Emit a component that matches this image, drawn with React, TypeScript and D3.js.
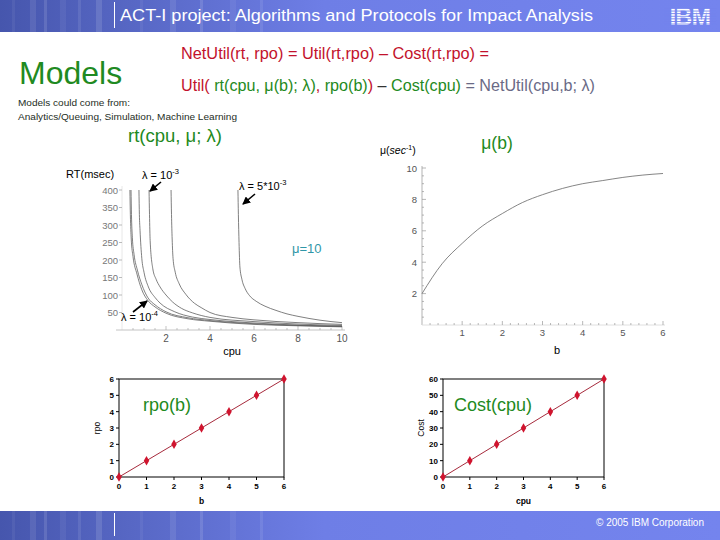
import React from 'react';
import * as d3 from 'd3';

// ---------- DATA ----------
const rtTicks = [50, 100, 150, 200, 250, 300, 350, 400];
const cpuTicks = [2, 4, 6, 8, 10];
// response-time curves [cpu, rt(msec)]
const rtCurve1 = [[0.36, 400], [0.38, 330], [0.42, 260], [0.5, 210], [0.68, 160], [0.9, 115], [1.18, 84], [1.5, 66], [2, 48], [3, 32], [4, 25], [6, 16], [8, 12], [10, 9]];
const rtCurve2 = [[0.41, 400], [0.43, 330], [0.47, 265], [0.55, 215], [0.7, 171], [0.9, 130], [1.18, 92], [1.5, 72], [2, 52], [3, 35], [4, 27], [6, 18], [8, 13], [10, 10]];
const rtCurve3 = [[0.77, 400], [0.79, 330], [0.82, 285], [0.9, 205], [1.0, 165], [1.2, 123], [1.5, 93], [1.73, 77], [2.4, 52], [3.2, 37], [4, 30], [6, 20], [8, 14], [10, 11]];
const rtCurve4 = [[1.23, 400], [1.25, 330], [1.28, 255], [1.4, 175], [1.55, 145], [1.73, 123], [2.0, 100], [2.3, 80], [2.7, 62], [3.2, 49], [4, 36], [6, 24], [8, 17], [10, 13]];
const rtCurve5 = [[2.23, 400], [2.25, 330], [2.28, 260], [2.32, 205], [2.42, 165], [2.6, 132], [2.9, 102], [3.3, 76], [3.6, 64], [4, 50], [5, 36], [6, 29], [8, 21], [10, 16]];
const rtCurve6 = [[5.27, 400], [5.29, 330], [5.32, 250], [5.36, 180], [5.45, 145], [5.6, 118], [5.8, 98], [6.1, 82], [6.5, 68], [7, 56], [7.5, 46], [8, 39], [9, 28], [10, 21]];
const rtCurves = [rtCurve1, rtCurve2, rtCurve3, rtCurve4, rtCurve5, rtCurve6];

const muTicksY = [2, 4, 6, 8, 10];
const muTicksX = [1, 2, 3, 4, 5, 6];
const muB = [0, 0.5, 1, 1.5, 2, 2.5, 3, 3.5, 4, 4.5, 5, 5.5, 6];
const muVal = [2, 3.9, 5.2, 6.3, 7.1, 7.8, 8.3, 8.7, 9.0, 9.2, 9.4, 9.55, 9.65];

const bVals = [0, 1, 2, 3, 4, 5, 6];
const rpoVals = [0, 1, 2, 3, 4, 5, 6];
const rpoTicks = [0, 1, 2, 3, 4, 5, 6];
const cpuVals = [0, 1, 2, 3, 4, 5, 6];
const costVals = [0, 10, 20, 30, 40, 50, 60];
const costTicks = [0, 10, 20, 30, 40, 50, 60];

const FONT = "'Liberation Sans', Arial, Helvetica, sans-serif";
const RED = '#c2122c';
const GREEN = '#1f8a22';

function Band({ y, h, id }: { y: number; h: number; id: string }) {
  return (
    <g>
      <rect x={0} y={y} width={720} height={h} fill={`url(#${id})`} />
      {[12, 30, 44, 60, 78, 96, 140, 170, 200, 230, 260].map((x, i) => (
        <rect key={i} x={x} y={y} width={i % 2 ? 6 : 3} height={h} fill="#ffffff" opacity={0.06 + (i % 3) * 0.03} />
      ))}
      <line x1={114.5} x2={114.5} y1={y + 2} y2={y + h - 4} stroke="#fff" strokeWidth={1} />
    </g>
  );
}

function ExcelChart({ x0, x1, y0, y1, xs, ys, yMax, yTicks, yLabel, xLabel, title, titleX }: any) {
  const xS = d3.scaleLinear().domain([0, 6]).range([x0, x1]);
  const yS = d3.scaleLinear().domain([0, yMax]).range([y1, y0]);
  const line = d3.line<number>().x((d, i) => xS(xs[i])).y((d) => yS(d));
  const sym = d3.symbol(d3.symbolDiamond, 26)();
  return (
    <g fontFamily={FONT}>
      <rect x={x0} y={y0} width={x1 - x0} height={y1 - y0} fill="#fff" stroke="#000" strokeWidth={1} />
      {yTicks.map((t: number) => (
        <g key={t}>
          <line x1={x0 - 3} x2={x0} y1={yS(t)} y2={yS(t)} stroke="#000" />
          <text x={x0 - 5} y={yS(t) + 3} textAnchor="end" fontSize={8} fontWeight="bold">{t}</text>
        </g>
      ))}
      {xs.map((t: number) => (
        <g key={t}>
          <line x1={xS(t)} x2={xS(t)} y1={y1} y2={y1 + 3} stroke="#000" />
          <text x={xS(t)} y={y1 + 12} textAnchor="middle" fontSize={8} fontWeight="bold">{t}</text>
        </g>
      ))}
      <path d={line(ys) || ''} fill="none" stroke="#9c1226" strokeWidth={0.9} />
      {ys.map((v: number, i: number) => (
        <path key={i} d={sym || ''} transform={`translate(${xS(xs[i])},${yS(v)})`} fill="#d0142e" />
      ))}
      <text transform={`translate(${x0 - 19},${(y0 + y1) / 2}) rotate(-90)`} textAnchor="middle" fontSize={8.5}>{yLabel}</text>
      <text x={(x0 + x1) / 2} y={y1 + 27} textAnchor="middle" fontSize={8.5} fontWeight="bold">{xLabel}</text>
      <text x={titleX} y={411} fontSize={18} fill={GREEN}>{title}</text>
    </g>
  );
}

export default function App() {
  // RT chart scales
  const xRT = d3.scaleLinear().domain([0, 10]).range([122, 342]);
  const yRT = d3.scaleLinear().domain([0, 400]).range([330, 190]);
  const rtLine = d3.line<number[]>().x((d) => xRT(d[0])).y((d) => yRT(d[1])).curve(d3.curveMonotoneX);

  // mu chart scales
  const xMu = d3.scaleLinear().domain([0, 6]).range([422, 663]);
  const yMu = d3.scaleLinear().domain([0, 10]).range([325, 168]);
  const muLine = d3.line<number>().x((d, i) => xMu(muB[i])).y((d) => yMu(d)).curve(d3.curveMonotoneX);

  const minorY = d3.range(0.5, 10.01, 0.5);
  const minorX = d3.range(0.2, 6.01, 0.2);
  const minorRT = d3.range(0.5, 10.01, 0.5);

  return (
    <svg width={720} height={540} style={{ position: 'absolute', left: 0, top: 0, background: '#fff' }} fontFamily={FONT}>
      <defs>
        <linearGradient id="hdr" x1="0" x2="1" y1="0" y2="0">
          <stop offset="0" stopColor="#4656ad" />
          <stop offset="0.18" stopColor="#5767c4" />
          <stop offset="0.45" stopColor="#6e7ee6" />
          <stop offset="1" stopColor="#7484ee" />
        </linearGradient>
        <marker id="arr" markerUnits="userSpaceOnUse" markerWidth={8} markerHeight={8} refX={7} refY={4} orient="auto">
          <path d="M0,0 L8,4 L0,8 z" fill="#000" />
        </marker>
      </defs>
      <rect x={0} y={0} width={720} height={540} fill="#fff" />

      {/* header */}
      <Band y={0} h={32} id="hdr" />
      <text x={120} y={21} fill="#fff" fontSize={17} textLength={473} lengthAdjust="spacingAndGlyphs">ACT-I project: Algorithms and Protocols for Impact Analysis</text>
      <g>
        <text x={690} y={25} textAnchor="middle" fill="#fff" fontSize={23} fontWeight="bold" letterSpacing={-0.5}>IBM</text>
        {d3.range(8, 26, 2.6).map((y, i) => (
          <rect key={i} x={664} y={y} width={52} height={0.9} fill="#7383ed" />
        ))}
      </g>

      {/* footer */}
      <Band y={511} h={29} id="hdr" />
      <text x={704} y={526} textAnchor="end" fill="#fff" fontSize={10}>© 2005 IBM Corporation</text>

      {/* headings */}
      <text x={19} y={84} fontSize={32} fill={GREEN}>Models</text>
      <text x={181} y={59} fontSize={16} fill={RED} textLength={308} lengthAdjust="spacingAndGlyphs">
        NetUtil(rt, rpo) = Util(rt,rpo) – Cost(rt,rpo) =
      </text>
      <text x={181} y={91} fontSize={16} textLength={414} lengthAdjust="spacingAndGlyphs">
        <tspan fill={RED}>Util( </tspan>
        <tspan fill={GREEN}>rt(cpu, μ(b); λ)</tspan>
        <tspan fill={RED}>, </tspan>
        <tspan fill={GREEN}>rpo(b)</tspan>
        <tspan fill={RED}>)</tspan>
        <tspan fill="#333"> – </tspan>
        <tspan fill={GREEN}>Cost(cpu)</tspan>
        <tspan fill="#6a6a86"> = NetUtil(cpu,b; λ)</tspan>
      </text>
      <text x={18} y={106} fontSize={9.5} fill="#1e2e1e" textLength={112} lengthAdjust="spacingAndGlyphs">Models could come from:</text>
      <text x={18} y={120} fontSize={9.5} fill="#1e2e1e" textLength={219} lengthAdjust="spacingAndGlyphs">Analytics/Queuing, Simulation, Machine Learning</text>

      {/* RT chart */}
      <text x={175} y={142} textAnchor="middle" fontSize={18.5} fill={GREEN}>rt(cpu, μ; λ)</text>
      <text x={66} y={178} fontSize={11}>RT(msec)</text>
      <line x1={122} x2={122} y1={186} y2={330} stroke="#e8e8e8" />
      <line x1={116} x2={345} y1={330} y2={330} stroke="#c4c4c4" />
      {minorRT.map((t) => (
        <line key={t} x1={xRT(t)} x2={xRT(t)} y1={330} y2={t % 2 === 0 ? 326 : 328} stroke="#aaa" strokeWidth={0.7} />
      ))}
      {rtTicks.map((t) => (
        <g key={t}>
          <line x1={119} x2={122} y1={yRT(t)} y2={yRT(t)} stroke="#aaa" strokeWidth={0.8} />
          <text x={118} y={yRT(t) + 3.5} textAnchor="end" fontSize={9.5} fill="#777">{t}</text>
        </g>
      ))}
      {cpuTicks.map((t) => (
        <text key={t} x={xRT(t)} y={342} textAnchor="middle" fontSize={10} fill="#555">{t}</text>
      ))}
      <text x={232} y={355} textAnchor="middle" fontSize={11}>cpu</text>
      {rtCurves.map((c, i) => (
        <path key={i} d={rtLine(c) || ''} fill="none" stroke="#555" strokeWidth={0.75} />
      ))}
      {/* annotations */}
      <text x={142} y={179} fontSize={11}>λ = 10<tspan dy={-5} fontSize={7.5}>-3</tspan></text>
      <line x1={161} x2={150} y1={182} y2={191} stroke="#000" strokeWidth={1.6} markerEnd="url(#arr)" />
      <text x={239} y={190} fontSize={11}>λ = 5*10<tspan dy={-5} fontSize={7.5}>-3</tspan></text>
      <line x1={255} x2={243} y1={194} y2={204} stroke="#000" strokeWidth={1.6} markerEnd="url(#arr)" />
      <text x={121} y={321} fontSize={11}>λ = 10<tspan dy={-5} fontSize={7.5}>-4</tspan></text>
      <line x1={133} x2={147} y1={312} y2={301} stroke="#000" strokeWidth={1.6} markerEnd="url(#arr)" />
      <text x={292} y={253} fontSize={13} fill="#2f97a8">μ=10</text>

      {/* mu(b) chart */}
      <text x={497} y={149} textAnchor="middle" fontSize={17.5} fill={GREEN}>μ(b)</text>
      <text x={380} y={154} fontSize={10.5}>μ(<tspan fontStyle="italic">sec</tspan><tspan dy={-4} fontSize={7}>-1</tspan><tspan dy={4}>)</tspan></text>
      <line x1={422} x2={422} y1={166} y2={325} stroke="#aaa" strokeWidth={0.9} />
      <line x1={422} x2={665} y1={325} y2={325} stroke="#ddd" strokeWidth={0.9} />
      {minorY.map((t) => (
        <line key={t} x1={422} x2={t % 2 === 0 ? 426 : 424} y1={yMu(t)} y2={yMu(t)} stroke="#999" strokeWidth={0.7} />
      ))}
      {minorX.map((t, i) => (
        <line key={i} x1={xMu(t)} x2={xMu(t)} y1={325} y2={(i + 1) % 5 === 0 ? 321 : 323} stroke="#999" strokeWidth={0.7} />
      ))}
      {muTicksY.map((t) => (
        <text key={t} x={417} y={yMu(t) + 3.5} textAnchor="end" fontSize={9.5} fill="#555">{t}</text>
      ))}
      {muTicksX.map((t) => (
        <text key={t} x={xMu(t)} y={336} textAnchor="middle" fontSize={9.5} fill="#555">{t}</text>
      ))}
      <text x={557} y={354} textAnchor="middle" fontSize={11}>b</text>
      <path d={muLine(muVal) || ''} fill="none" stroke="#666" strokeWidth={0.8} />

      {/* bottom Excel charts */}
      <ExcelChart x0={119} x1={284} y0={379} y1={477} xs={bVals} ys={rpoVals} yMax={6} yTicks={rpoTicks}
        yLabel="rpo" xLabel="b" title="rpo(b)" titleX={143} />
      <ExcelChart x0={443} x1={604} y0={379} y1={477} xs={cpuVals} ys={costVals} yMax={60} yTicks={costTicks}
        yLabel="Cost" xLabel="cpu" title="Cost(cpu)" titleX={454} />
    </svg>
  );
}
